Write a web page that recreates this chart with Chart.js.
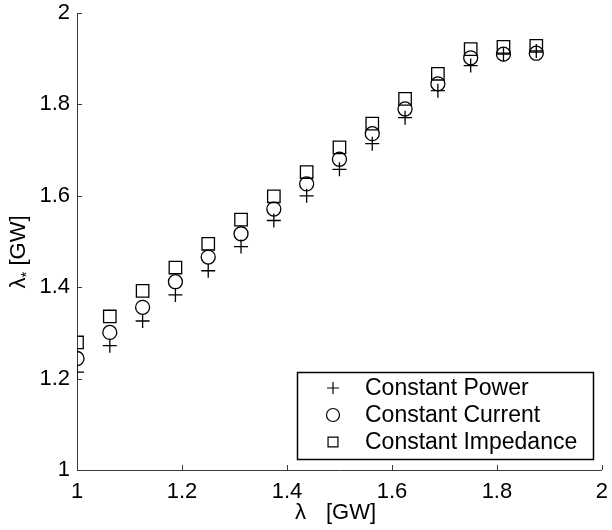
<!DOCTYPE html>
<html>
<head>
<meta charset="utf-8">
<script src="https://cdn.jsdelivr.net/npm/chart.js@4.4.1/dist/chart.umd.min.js"></script>
<style>
  html, body { margin: 0; padding: 0; background: #fff; }
  #wrap { width: 612px; height: 530px; }
</style>
</head>
<body>
<div id="wrap"><canvas id="chart" width="612" height="530"></canvas></div>
<script>
// load levels (x) and the three load models (y)
const lambdaValues = [1.0, 1.0625, 1.125, 1.1875, 1.25, 1.3125, 1.375, 1.4375, 1.5, 1.5625, 1.625, 1.6875, 1.75, 1.8125, 1.875];
const constantPower = [1.214, 1.272, 1.326, 1.383, 1.436, 1.489, 1.546, 1.600, 1.658, 1.714, 1.771, 1.830, 1.885, 1.910, 1.917];
const constantCurrent = [1.244, 1.301, 1.356, 1.412, 1.466, 1.517, 1.571, 1.626, 1.680, 1.736, 1.790, 1.845, 1.902, 1.910, 1.912];
const constantImpedance = [1.279, 1.336, 1.392, 1.443, 1.495, 1.548, 1.599, 1.652, 1.706, 1.758, 1.812, 1.867, 1.921, 1.926, 1.928];
const tickValues = [1, 1.2, 1.4, 1.6, 1.8, 2];
const tickLabels = ['1', '1.2', '1.4', '1.6', '1.8', '2'];

const FONT = 'Liberation Sans, Arial, Helvetica, sans-serif';
const AXIS_COLOR = '#3a3a3a';

function toPoints(ys) {
    return lambdaValues.map((x, i) => ({ x: x, y: ys[i] }));
}

// MATLAB style inward tick marks
const inwardTicks = {
    id: 'inwardTicks',
    afterDraw(chart) {
        const ctx = chart.ctx;
        const area = chart.chartArea;
        const xs = chart.scales.x;
        const ys = chart.scales.y;
        ctx.save();
        ctx.strokeStyle = AXIS_COLOR;
        ctx.lineWidth = 1;
        ctx.beginPath();
        tickValues.forEach(v => {
            const px = Math.round(xs.getPixelForValue(v)) + 0.5;
            ctx.moveTo(px, area.bottom);
            ctx.lineTo(px, area.bottom - 5);
            const py = Math.round(ys.getPixelForValue(v)) + 0.5;
            ctx.moveTo(area.left, py);
            ctx.lineTo(area.left + 5, py);
        });
        ctx.stroke();
        ctx.restore();
    }
};

// axis titles, y title has a subscript star
const axisTitles = {
    id: 'axisTitles',
    afterDraw(chart) {
        const ctx = chart.ctx;
        ctx.save();
        ctx.fillStyle = '#000';
        ctx.textBaseline = 'alphabetic';

        ctx.font = '22px ' + FONT;
        ctx.textAlign = 'left';
        ctx.fillText('\u03bb', 295, 519);
        ctx.fillText('[GW]', 326, 519);

        ctx.translate(25, 252);
        ctx.rotate(-Math.PI / 2);
        const big = '22px ' + FONT;
        const small = '15px ' + FONT;
        ctx.font = big;
        const w1 = ctx.measureText('\u03bb').width;
        const w3 = ctx.measureText(' [GW]').width;
        ctx.font = small;
        const w2 = ctx.measureText('*').width;
        let x = -(w1 + w2 + w3) / 2;
        ctx.font = big;
        ctx.fillText('\u03bb', x, 0);
        x += w1;
        ctx.font = small;
        ctx.fillText('*', x, 6);
        x += w2;
        ctx.font = big;
        ctx.fillText(' [GW]', x, 0);
        ctx.restore();
    }
};

// boxed legend inside the plot, lower right
const boxLegend = {
    id: 'boxLegend',
    afterDraw(chart) {
        const ctx = chart.ctx;
        const box = { left: 297.5, top: 372.5, right: 593.5, bottom: 459.5 };
        ctx.save();
        ctx.fillStyle = '#fff';
        ctx.fillRect(box.left, box.top, box.right - box.left, box.bottom - box.top);
        ctx.strokeStyle = '#000';
        ctx.lineWidth = 1.5;
        ctx.strokeRect(box.left, box.top, box.right - box.left, box.bottom - box.top);
        const rows = [388, 415, 442];
        const symSizes = [6, 6.5, 7];
        ctx.font = '23px ' + FONT;
        ctx.textBaseline = 'middle';
        ctx.textAlign = 'left';
        chart.data.datasets.forEach((ds, i) => {
            ctx.strokeStyle = '#000';
            ctx.fillStyle = 'rgba(0,0,0,0)';
            ctx.lineWidth = 1.2;
            Chart.helpers.drawPoint(ctx, {
                pointStyle: ds.pointStyle,
                radius: symSizes[i],
                rotation: 0,
                borderWidth: 1.2
            }, 333, rows[i]);
            ctx.fillStyle = '#000';
            ctx.fillText(ds.label, 365, rows[i] + 1);
        });
        ctx.restore();
    }
};

const ctx = document.getElementById('chart').getContext('2d');

new Chart(ctx, {
    type: 'scatter',
    data: {
        datasets: [
            {
                label: 'Constant Power',
                data: toPoints(constantPower),
                pointStyle: 'cross',
                pointRadius: 7,
                borderColor: '#000',
                backgroundColor: 'rgba(0,0,0,0)',
                pointBorderWidth: 1.3
            },
            {
                label: 'Constant Current',
                data: toPoints(constantCurrent),
                pointStyle: 'circle',
                pointRadius: 7,
                borderColor: '#000',
                backgroundColor: 'rgba(0,0,0,0)',
                pointBorderWidth: 1.3
            },
            {
                label: 'Constant Impedance',
                data: toPoints(constantImpedance),
                pointStyle: 'rect',
                pointRadius: 8.8,
                borderColor: '#000',
                backgroundColor: 'rgba(0,0,0,0)',
                pointBorderWidth: 1.3
            }
        ]
    },
    options: {
        responsive: false,
        animation: false,
        layout: { padding: { top: 13, right: 9, bottom: 0, left: 0 } },
        plugins: {
            legend: { display: false },
            tooltip: { enabled: false }
        },
        scales: {
            x: {
                type: 'linear',
                min: 1,
                max: 2,
                afterBuildTicks: scale => { scale.ticks = tickValues.map(v => ({ value: v })); },
                afterFit: scale => { scale.height = 60; scale.paddingLeft = 0; scale.paddingRight = 0; },
                grid: { display: true, drawOnChartArea: false, drawTicks: false },
                border: { display: true, color: AXIS_COLOR, width: 1 },
                ticks: {
                    color: '#000', font: { family: FONT, size: 22 }, padding: 9, maxRotation: 0,
                    callback: (v, i) => tickLabels[i]
                }
            },
            y: {
                type: 'linear',
                min: 1,
                max: 2,
                afterBuildTicks: scale => { scale.ticks = tickValues.map(v => ({ value: v })); },
                afterFit: scale => { scale.width = 77; scale.paddingTop = 0; scale.paddingBottom = 0; },
                grid: { display: true, drawOnChartArea: false, drawTicks: false },
                border: { display: true, color: AXIS_COLOR, width: 1 },
                ticks: {
                    color: '#000', font: { family: FONT, size: 22 }, padding: 7,
                    callback: (v, i) => tickLabels[i]
                }
            }
        }
    },
    plugins: [inwardTicks, axisTitles, boxLegend]
});
</script>
</body>
</html>
